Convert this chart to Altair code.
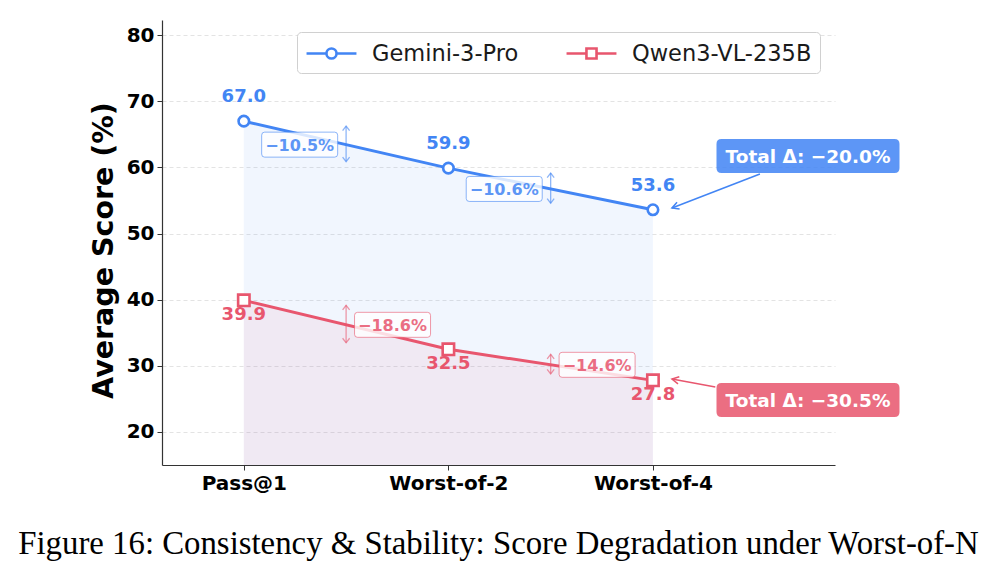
import math
import altair as alt
import pandas as pd

# ---------------- data ----------------
categories = ["Pass@1", "Worst-of-2", "Worst-of-4"]
series_names = ["Gemini-3-Pro", "Qwen3-VL-235B"]
gemini_scores = [67.0, 59.9, 53.6]
qwen_scores = [39.9, 32.5, 27.8]
gemini_drops = ["−10.5%", "−10.6%"]
qwen_drops = ["−18.6%", "−14.6%"]
total_labels = ["Total Δ: −20.0%", "Total Δ: −30.5%"]
y_ticks = [20, 30, 40, 50, 60, 70, 80]
caption = "Figure 16: Consistency & Stability: Score Degradation under Worst-of-N"

# ---------------- style / layout ----------------
BLUE = "#4285F4"
RED = "#E8566E"
series_colors = {series_names[0]: BLUE, series_names[1]: RED}
FONT = "DejaVu Sans"
W, H = 673, 445
XMIN, XMAX = -0.4, 2.89
YMIN, YMAX = 15.0, 82.3
PXX = W / (XMAX - XMIN)
PXY = H / (YMAX - YMIN)

color_scale = alt.Scale(domain=series_names, range=[BLUE, RED])
xscale = alt.Scale(domain=[XMIN, XMAX], nice=False, zero=False)
yscale = alt.Scale(domain=[YMIN, YMAX], nice=False, zero=False)

all_scores = [gemini_scores, qwen_scores]
rows = []
for s, scores in zip(series_names, all_scores):
    for i, (c, v) in enumerate(zip(categories, scores)):
        rows.append({"idx": i, "category": c, "series": s, "score": v, "col": series_colors[s]})
df = pd.DataFrame(rows)

# percent-drop annotations
pct_rows = []
for k, (s, scores, drops) in enumerate(zip(series_names, all_scores, [gemini_drops, qwen_drops])):
    side = -1 if k == 0 else 1
    for j, lab in enumerate(drops):
        mid_x = j + 0.5
        mid_y = (scores[j] + scores[j + 1]) / 2
        pct_rows.append({
            "series": s, "col": series_colors[s],
            "ax": mid_x,
            "top": scores[j] - 5.0 / PXY,
            "bot": scores[j + 1] + 6.5 / PXY,
            "bx": mid_x + side * 0.227,
            "by": mid_y,
            "label": lab,
        })
pct_df = pd.DataFrame(pct_rows)

# total-change annotations (box positions and arrows in data coordinates)
tot_df = pd.DataFrame({
    "series": series_names,
    "col": [series_colors[s] for s in series_names],
    "label": total_labels,
    "bx": [2.758, 2.758],
    "by": [61.73, 24.83],
    "sx": [2.523, 2.305],
    "sy": [59.0, 26.8],
    "ex": [2.093, 2.093],
    "ey": [53.87, 28.0],
})
tot_df["ang"] = [
    (math.degrees(math.atan2((ex - sx) * PXX, (ey - sy) * PXY)) + 360) % 360
    for sx, sy, ex, ey in zip(tot_df.sx, tot_df.sy, tot_df.ex, tot_df.ey)
]


def rrect(w, h, r):
    hw = 1.0
    hh = h / w
    rr = 2.0 * r / w
    return (f"M{-hw + rr},{-hh}L{hw - rr},{-hh}Q{hw},{-hh} {hw},{-hh + rr}"
            f"L{hw},{hh - rr}Q{hw},{hh} {hw - rr},{hh}"
            f"L{-hw + rr},{hh}Q{-hw},{hh} {-hw},{hh - rr}"
            f"L{-hw},{-hh + rr}Q{-hw},{-hh} {-hw + rr},{-hh}Z")


PCT_BOX = rrect(76, 25, 3)
TOT_BOX = rrect(183, 34, 5)
UP = "M-1,1.3L0,0L1,1.3"
DOWN = "M-1,-1.3L0,0L1,-1.3"
HEAD = "M-0.9,1.7L0,0L0.9,1.7"
LEG_CIRCLE = ("M-2.08,0L-0.42,0M0.42,0L2.08,0M0.42,0"
              "C0.42,0.232 0.232,0.42 0,0.42C-0.232,0.42 -0.42,0.232 -0.42,0"
              "C-0.42,-0.232 -0.232,-0.42 0,-0.42C0.232,-0.42 0.42,-0.232 0.42,0Z")
LEG_SQUARE = "M-2.08,0L-0.42,0M0.42,0L2.08,0M-0.42,-0.42L0.42,-0.42L0.42,0.42L-0.42,0.42Z"

x_axis = alt.Axis(
    values=[0, 1, 2],
    labelExpr="[" + ",".join(f"'{c}'" for c in categories) + "][datum.value]",
    grid=False, labelFont=FONT, labelFontSize=20, labelFontWeight="bold",
    labelColor="black", tickColor="#333", domainColor="#333", domainWidth=1.2,
    tickSize=5, labelPadding=3, title=None,
)
y_axis = alt.Axis(
    values=y_ticks, grid=True, gridDash=[4, 3], gridColor="#dcdcdc", gridWidth=0.8,
    labelFont=FONT, labelFontSize=20, labelFontWeight="bold", labelColor="black",
    tickColor="#333", domainColor="#333", domainWidth=1.2, tickSize=5, labelPadding=3,
    title="Average Score (%)", titleFont=FONT, titleFontSize=28.5, titleFontWeight="bold",
    titleColor="black", titlePadding=8, titleY=230, titleAlign="center",
)


def xe(field):
    return alt.X(f"{field}:Q", scale=xscale, axis=x_axis)


def ye(field):
    return alt.Y(f"{field}:Q", scale=yscale, axis=y_axis, stack=None)


C = alt.Color("col:N", scale=None)
S = alt.Stroke("col:N", scale=None)

base = alt.Chart(df)
area = base.mark_area(opacity=0.075, clip=True).encode(
    x=xe("idx"), y=ye("score"), color=C, detail="series:N")
lines = base.mark_line(strokeWidth=3).encode(x=xe("idx"), y=ye("score"), color=C, detail="series:N")

circles = base.transform_filter(alt.datum.series == series_names[0]).mark_point(
    shape="circle", filled=True, fill="white", size=110, strokeWidth=2.6, opacity=1
).encode(x=xe("idx"), y=ye("score"), stroke=S)
squares = base.transform_filter(alt.datum.series == series_names[1]).mark_point(
    shape="square", filled=True, fill="white", size=130, strokeWidth=2.6, opacity=1
).encode(x=xe("idx"), y=ye("score"), stroke=S)

lab_style = dict(font=FONT, fontSize=18, fontWeight="bold", align="center", baseline="middle")
labels_top = base.transform_filter(alt.datum.series == series_names[0]).mark_text(
    dy=-24, **lab_style).encode(x=xe("idx"), y=ye("score"),
                                text=alt.Text("score:Q", format=".1f"), color=C)
labels_bot = base.transform_filter(alt.datum.series == series_names[1]).mark_text(
    dy=15, **lab_style).encode(x=xe("idx"), y=ye("score"),
                               text=alt.Text("score:Q", format=".1f"), color=C)

pbase = alt.Chart(pct_df)
pct_rule = pbase.mark_rule(strokeWidth=1.3, opacity=0.6).encode(
    x=xe("ax"), y=ye("top"), y2="bot:Q", color=C)
pct_up = pbase.mark_point(shape=UP, size=49, filled=False, strokeWidth=1.3, opacity=0.6).encode(
    x=xe("ax"), y=ye("top"), color=C)
pct_down = pbase.mark_point(shape=DOWN, size=49, filled=False, strokeWidth=1.3, opacity=0.6).encode(
    x=xe("ax"), y=ye("bot"), color=C)
pct_box = pbase.mark_point(shape=PCT_BOX, size=76 * 76, filled=True, fill="white", fillOpacity=0.8,
                           strokeWidth=1, strokeOpacity=0.6).encode(
    x=xe("bx"), y=ye("by"), stroke=S)
pct_text = pbase.mark_text(font=FONT, fontSize=16, fontWeight="bold", align="center",
                           baseline="middle", opacity=0.85, dy=1).encode(
    x=xe("bx"), y=ye("by"), text="label:N", color=C)

tbase = alt.Chart(tot_df)
tot_rule = tbase.mark_rule(strokeWidth=1.5).encode(
    x=xe("sx"), y=ye("sy"), x2="ex:Q", y2="ey:Q", color=C)
tot_head = tbase.mark_point(shape=HEAD, size=64, filled=False, strokeWidth=1.5, opacity=1).encode(
    x=xe("ex"), y=ye("ey"), angle=alt.Angle("ang:Q", scale=None), color=C)
tot_box = tbase.mark_point(shape=TOT_BOX, size=183 * 183, filled=True, opacity=0.86,
                           strokeWidth=0).encode(x=xe("bx"), y=ye("by"), color=C)
tot_text = tbase.mark_text(font=FONT, fontSize=18.5, fontWeight="bold", align="center",
                           baseline="middle", color="white", dy=1).encode(
    x=xe("bx"), y=ye("by"), text="label:N")

leg = alt.Legend(
    orient="none", legendX=135, legendY=12, direction="horizontal", title=None,
    labelFont=FONT, labelFontSize=22.5, labelColor="#1a1a1a", labelLimit=400,
    symbolSize=576, symbolStrokeWidth=2.6, symbolOffset=13, labelOffset=27, columnPadding=42,
    padding=8, strokeColor="#d0d0d0", fillColor="white", cornerRadius=4,
    symbolOpacity=1,
)
# legend-only layer: no rows are drawn, the legend comes from the explicit scale domains
legend_layer = base.transform_filter("false").mark_point(
    size=576, strokeWidth=2.6, filled=False, opacity=1, strokeOpacity=1
).encode(
    x=xe("idx"), y=ye("score"),
    color=alt.Color("series:N", scale=color_scale, legend=leg),
    shape=alt.Shape("series:N", scale=alt.Scale(domain=series_names, range=[LEG_CIRCLE, LEG_SQUARE]),
                    legend=leg),
)

chart = alt.layer(
    area, lines, pct_rule, pct_up, pct_down, pct_box, pct_text,
    tot_rule, tot_head, tot_box, tot_text,
    circles, squares, labels_top, labels_bot, legend_layer,
).properties(
    width=W, height=H,
    background="white",
    autosize=alt.AutoSizeParams(type="none"),
    padding={"left": 162, "top": 20, "right": 148, "bottom": 114},
    title=alt.TitleParams(caption, orient="bottom", anchor="middle", frame="group",
                          font="Liberation Serif", fontSize=32.8, fontWeight="normal",
                          color="black", offset=35),
).configure_view(stroke=None).configure_legend(
    unselectedOpacity=1, symbolOpacity=1, symbolStrokeWidth=2.6, symbolBaseStrokeColor="black"
)

chart.save("out.html", embed_options={"renderer": "svg", "actions": False})
